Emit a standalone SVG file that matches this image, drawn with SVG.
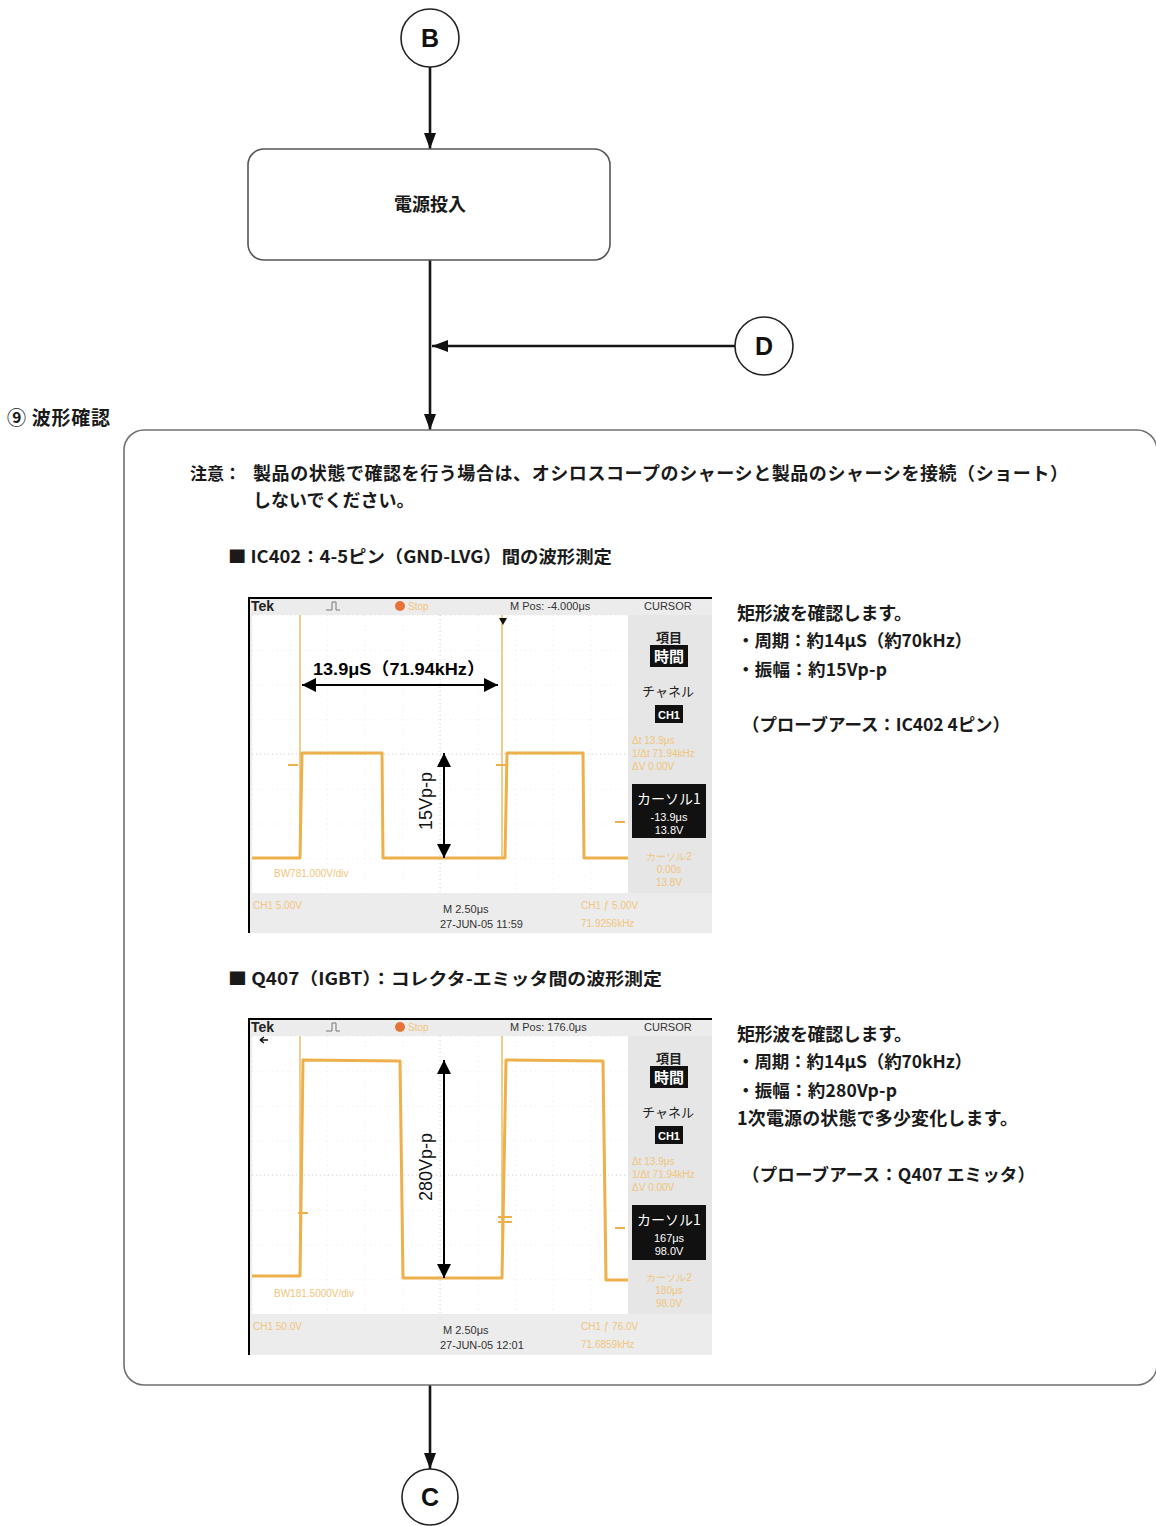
<svg xmlns="http://www.w3.org/2000/svg" width="1156" height="1526" viewBox="0 0 1156 1526">
<defs>
<marker id="ah" viewBox="0 0 16 12" refX="16" refY="6" markerWidth="16" markerHeight="12" markerUnits="userSpaceOnUse" orient="auto"><path d="M0,0 L16,6 L0,12 z" fill="#111"/></marker>
<marker id="sa" viewBox="0 0 14 14" refX="14" refY="7" markerWidth="14" markerHeight="14" markerUnits="userSpaceOnUse" orient="auto-start-reverse"><path d="M0,0 L14,7 L0,14 z" fill="#000"/></marker>
<pattern id="grid" x="4" y="18" width="37.6" height="34.75" patternUnits="userSpaceOnUse"><path d="M0,0 V34.75 M0,0 H37.6" fill="none" stroke="#d8d8d8" stroke-width="1" stroke-dasharray="1,4"/></pattern>
</defs>
<style>
.conn{stroke:#151515;stroke-width:2.6;fill:none}
.circ{fill:#fff;stroke:#222;stroke-width:1.6}
.cl{font-family:"Liberation Sans",Arial,sans-serif;font-weight:bold;font-size:25px;fill:#111;text-anchor:middle}
.jp{font-family:"Noto Sans CJK JP","Liberation Serif",sans-serif;font-weight:bold;fill:#1a1a1a}
.frame{fill:#fff;stroke:#707070;stroke-width:1.6}
.bg{fill:#ececec}
.trace{fill:none;stroke:#eeb04a;stroke-width:3;stroke-linejoin:round}
.cur{stroke:#f0c070;stroke-width:1.6}
.tick{stroke:#eeb04a;stroke-width:2}
.ot{font-family:"Liberation Sans",Arial,sans-serif;font-size:10px;fill:#f1c57c}
.st{font-family:"Liberation Sans",Arial,sans-serif;font-size:11px;fill:#333}
.sj{font-family:"Noto Sans CJK JP",sans-serif;font-size:13px;fill:#222;text-anchor:middle}
.wj{font-family:"Noto Sans CJK JP",sans-serif;fill:#fff;text-anchor:middle}
.ws{font-family:"Liberation Sans",Arial,sans-serif;font-size:11px;fill:#fff;text-anchor:middle}
.ann{font-family:"Liberation Sans","Noto Sans CJK JP",sans-serif;font-size:17px;font-weight:bold;fill:#000}
.rot{font-family:"Liberation Sans",Arial,sans-serif;font-size:18px;fill:#111;text-anchor:middle}
.blk{stroke:#000;stroke-width:2}
</style>
<rect width="1156" height="1526" fill="#fff"/>

<g id="connectors">
<line class="conn" x1="430" y1="67" x2="430" y2="149" marker-end="url(#ah)"/>
<line class="conn" x1="430" y1="260" x2="430" y2="430" marker-end="url(#ah)"/>
<line class="conn" x1="735" y1="346" x2="432" y2="346" marker-end="url(#ah)"/>
<line class="conn" x1="430" y1="1385" x2="430" y2="1469" marker-end="url(#ah)"/>
</g>

<g id="node-B"><circle class="circ" cx="430" cy="38" r="29"/><text class="cl" x="430" y="47">B</text></g>
<g id="node-power"><rect x="248" y="149" width="362" height="111" rx="16" fill="#fff" stroke="#555" stroke-width="1.6"/><text class="jp" x="430" y="211" font-size="18" text-anchor="middle">電源投入</text></g>
<g id="node-D"><circle class="circ" cx="764" cy="346" r="29"/><text class="cl" x="764" y="355">D</text></g>
<g id="node-C"><circle class="circ" cx="430" cy="1497" r="28"/><text class="cl" x="430" y="1506">C</text></g>

<g id="label-step"><text class="jp" x="7" y="425" font-size="19" textLength="103" lengthAdjust="spacing">⑨ 波形確認</text></g>

<g id="node-waveform">
<rect class="frame" x="124" y="430" width="1033" height="955" rx="20"/>
<text class="jp" x="190" y="480" font-size="17">注意：</text>
<text class="jp" x="253" y="480" font-size="18" textLength="815" lengthAdjust="spacing">製品の状態で確認を行う場合は、オシロスコープのシャーシと製品のシャーシを接続（ショート）</text>
<text class="jp" x="253" y="507" font-size="18">しないでください。</text>
<text class="jp" x="228" y="563" font-size="17" textLength="384" lengthAdjust="spacingAndGlyphs">■ IC402：4-5ピン（GND-LVG）間の波形測定</text>

<text class="jp" x="737" y="620" font-size="18" textLength="175" lengthAdjust="spacing">矩形波を確認します。</text>
<text class="jp" x="737" y="647" font-size="17.5" textLength="235" lengthAdjust="spacing">・周期：約14μS（約70kHz）</text>
<text class="jp" x="737" y="676" font-size="17.5" textLength="150" lengthAdjust="spacing">・振幅：約15Vp-p</text>
<text class="jp" x="742" y="731" font-size="17.5" textLength="268" lengthAdjust="spacing">（プローブアース：IC402 4ピン）</text>

<text class="jp" x="228" y="985" font-size="17" textLength="434" lengthAdjust="spacingAndGlyphs">■ Q407（IGBT）：コレクタ-エミッタ間の波形測定</text>

<text class="jp" x="737" y="1041" font-size="18" textLength="175" lengthAdjust="spacing">矩形波を確認します。</text>
<text class="jp" x="737" y="1068" font-size="17.5" textLength="235" lengthAdjust="spacing">・周期：約14μS（約70kHz）</text>
<text class="jp" x="737" y="1097" font-size="17.5" textLength="160" lengthAdjust="spacing">・振幅：約280Vp-p</text>
<text class="jp" x="737" y="1125" font-size="18" textLength="281" lengthAdjust="spacing">1次電源の状態で多少変化します。</text>
<text class="jp" x="742" y="1181" font-size="17.5" textLength="293" lengthAdjust="spacing">（プローブアース：Q407 エミッタ）</text>
</g>

<!-- scope 1 -->
<g id="scope-1" transform="translate(248,597)">
<rect class="bg" x="0" y="0" width="464" height="336"/>
<rect x="4" y="18" width="376" height="278" fill="#fff"/>
<rect x="4" y="18" width="376" height="278" fill="url(#grid)"/>
<line x1="192" y1="18" x2="192" y2="296" stroke="#d0d0d0" stroke-dasharray="1,3"/>
<line x1="4" y1="157" x2="380" y2="157" stroke="#d0d0d0" stroke-dasharray="1,3"/>
<line x1="0" y1="1" x2="464" y2="1" class="blk"/>
<line x1="1" y1="0" x2="1" y2="336" class="blk"/>
<text x="3" y="14" font-family="Liberation Sans,Arial,sans-serif" font-weight="bold" font-size="14" fill="#222">Tek</text>
<path d="M78,13 H84 V5 H88 V13 H92" fill="none" stroke="#777" stroke-width="1"/>
<circle cx="152" cy="9" r="5" fill="#e8733a"/>
<text class="ot" x="160" y="13">Stop</text>
<text class="st" x="262" y="13">M Pos: -4.000μs</text>
<text class="st" x="396" y="13" fill="#888">CURSOR</text>
<line class="cur" x1="52" y1="18" x2="52" y2="261"/>
<line class="cur" x1="254" y1="18" x2="254" y2="261"/>
<path d="M251,21 L259,21 L255,28 z" fill="#111"/>
<polyline class="trace" points="4,261 52,261 54,156 134,156 135,261 257,261 259,156 335,156 336,261 380,261"/>
<line class="tick" x1="40" y1="168" x2="50" y2="168"/>
<line class="tick" x1="248" y1="168" x2="258" y2="168"/>
<line class="tick" x1="367" y1="225" x2="377" y2="225"/>
<text class="ot" x="26" y="280">BW781.000V/div</text>
<line x1="54" y1="88" x2="250" y2="88" class="blk" marker-start="url(#sa)" marker-end="url(#sa)"/>
<text class="ann" x="65" y="78" textLength="172" lengthAdjust="spacingAndGlyphs">13.9μS（71.94kHz）</text>
<line x1="196" y1="156" x2="196" y2="261" class="blk" marker-start="url(#sa)" marker-end="url(#sa)"/>
<text class="rot" transform="translate(184,204) rotate(-90)">15Vp-p</text>
<rect x="380" y="18" width="84" height="278" fill="#e6e6e6"/>
<text class="sj" x="421" y="45" font-weight="bold">項目</text>
<rect x="402" y="48" width="38" height="22" fill="#111"/>
<text class="wj" x="421" y="65" font-size="15" font-weight="bold">時間</text>
<text class="sj" x="420" y="99">チャネル</text>
<rect x="407" y="108" width="28" height="18" fill="#111"/>
<text class="ws" x="421" y="122" font-weight="bold">CH1</text>
<text class="ot" x="384" y="147">Δt 13.9μs</text>
<text class="ot" x="384" y="160">1/Δt 71.94kHz</text>
<text class="ot" x="384" y="173">ΔV 0.00V</text>
<rect x="384" y="187" width="74" height="54" fill="#111"/>
<text class="wj" x="421" y="207" font-size="14">カーソル1</text>
<text class="ws" x="421" y="224">-13.9μs</text>
<text class="ws" x="421" y="237">13.8V</text>
<text class="ot" x="421" y="263" text-anchor="middle" font-family="Noto Sans CJK JP,sans-serif" font-size="12">カーソル2</text>
<text class="ot" x="421" y="276" text-anchor="middle">0.00s</text>
<text class="ot" x="421" y="289" text-anchor="middle">13.8V</text>
<text class="ot" x="5" y="312" font-size="11">CH1 5.00V</text>
<text class="st" x="195" y="316">M 2.50μs</text>
<text class="st" x="192" y="331">27-JUN-05 11:59</text>
<text class="ot" x="333" y="312" font-size="11">CH1 ƒ 5.00V</text>
<text class="ot" x="333" y="330" font-size="11">71.9256kHz</text>
</g>

<!-- scope 2 -->
<g id="scope-2" transform="translate(248,1018)">
<rect class="bg" x="0" y="0" width="464" height="337"/>
<rect x="4" y="18" width="376" height="278" fill="#fff"/>
<rect x="4" y="18" width="376" height="278" fill="url(#grid)"/>
<line x1="192" y1="18" x2="192" y2="296" stroke="#d0d0d0" stroke-dasharray="1,3"/>
<line x1="4" y1="157" x2="380" y2="157" stroke="#d0d0d0" stroke-dasharray="1,3"/>
<line x1="0" y1="1" x2="464" y2="1" class="blk"/>
<line x1="1" y1="0" x2="1" y2="337" class="blk"/>
<text x="3" y="14" font-family="Liberation Sans,Arial,sans-serif" font-weight="bold" font-size="14" fill="#222">Tek</text>
<path d="M78,13 H84 V5 H88 V13 H92" fill="none" stroke="#777" stroke-width="1"/>
<circle cx="152" cy="9" r="5" fill="#e8733a"/>
<text class="ot" x="160" y="13">Stop</text>
<text class="st" x="262" y="13">M Pos: 176.0μs</text>
<text class="st" x="396" y="13" fill="#888">CURSOR</text>
<path d="M12,22 L20,22 M12,22 L16,19 M12,22 L16,25" fill="none" stroke="#111" stroke-width="1.5"/>
<line class="cur" x1="52" y1="18" x2="52" y2="258"/>
<line class="cur" x1="254" y1="18" x2="254" y2="260"/>
<polyline class="trace" points="4,258 52,258 55,42 152,43 155,260 254,260 258,42 355,43 358,262 380,262"/>
<line class="tick" x1="50" y1="195" x2="60" y2="195"/>
<line class="tick" x1="250" y1="199" x2="264" y2="199"/>
<line class="tick" x1="250" y1="204" x2="264" y2="204"/>
<line class="tick" x1="367" y1="210" x2="377" y2="210"/>
<text class="ot" x="26" y="279">BW181.5000V/div</text>
<line x1="196" y1="42" x2="196" y2="260" class="blk" stroke-width="1.6" marker-start="url(#sa)" marker-end="url(#sa)"/>
<text class="rot" transform="translate(184,149) rotate(-90)">280Vp-p</text>
<rect x="380" y="18" width="84" height="278" fill="#e6e6e6"/>
<text class="sj" x="421" y="45" font-weight="bold">項目</text>
<rect x="402" y="48" width="38" height="22" fill="#111"/>
<text class="wj" x="421" y="65" font-size="15" font-weight="bold">時間</text>
<text class="sj" x="420" y="99">チャネル</text>
<rect x="407" y="108" width="28" height="18" fill="#111"/>
<text class="ws" x="421" y="122" font-weight="bold">CH1</text>
<text class="ot" x="384" y="147">Δt 13.9μs</text>
<text class="ot" x="384" y="160">1/Δt 71.94kHz</text>
<text class="ot" x="384" y="173">ΔV 0.00V</text>
<rect x="384" y="187" width="74" height="55" fill="#111"/>
<text class="wj" x="421" y="207" font-size="14">カーソル1</text>
<text class="ws" x="421" y="224">167μs</text>
<text class="ws" x="421" y="237">98.0V</text>
<text class="ot" x="421" y="263" text-anchor="middle" font-family="Noto Sans CJK JP,sans-serif" font-size="12">カーソル2</text>
<text class="ot" x="421" y="276" text-anchor="middle">180μs</text>
<text class="ot" x="421" y="289" text-anchor="middle">98.0V</text>
<text class="ot" x="5" y="312" font-size="11">CH1 50.0V</text>
<text class="st" x="195" y="316">M 2.50μs</text>
<text class="st" x="192" y="331">27-JUN-05 12:01</text>
<text class="ot" x="333" y="312" font-size="11">CH1 ƒ 76.0V</text>
<text class="ot" x="333" y="330" font-size="11">71.6859kHz</text>
</g>
</svg>
